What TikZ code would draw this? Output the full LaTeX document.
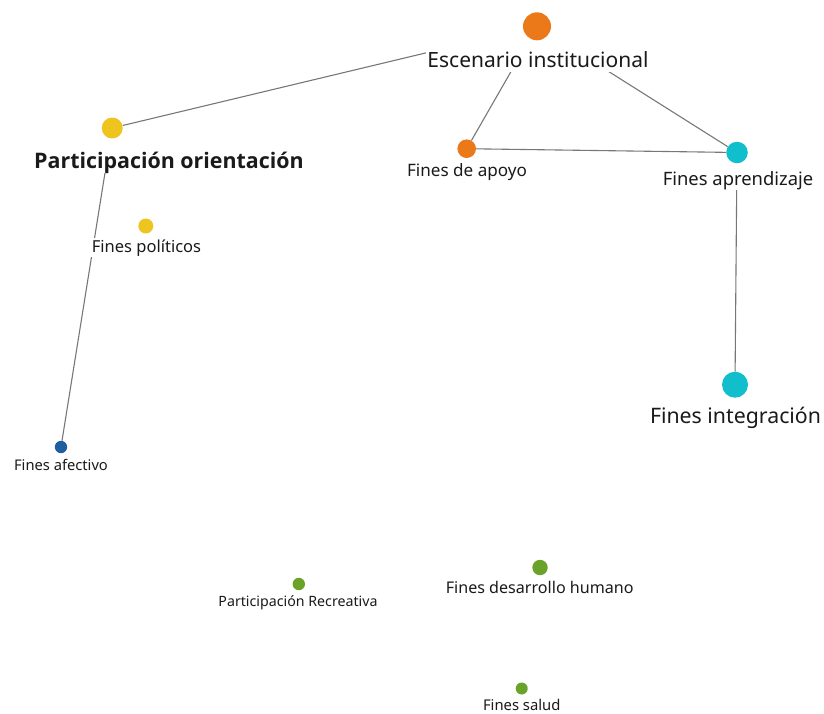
\documentclass[tikz,border=0pt]{standalone}
\usepackage{fontspec}
\setmainfont{Noto Sans}
\newfontfamily\boldfam{Open Sans}
\usetikzlibrary{backgrounds}
\definecolor{corange}{HTML}{EB7819}
\definecolor{cyellow}{HTML}{EEC41E}
\definecolor{ccyan}{HTML}{10BECC}
\definecolor{cblue}{HTML}{1F5FA0}
\definecolor{cgreen}{HTML}{6BA32A}
\definecolor{cedge}{HTML}{777777}
\definecolor{ctext}{HTML}{1A1A1A}
\tikzset{
  dot/.style={circle, inner sep=0pt, minimum size=#1},
  lbl/.style={anchor=base, fill=white, inner sep=1.5pt, text=ctext, text depth=0.3em, font=\fontsize{#1}{#1}\selectfont},
  edge/.style={draw=cedge, line width=1.1pt}
}
\begin{document}
\begin{tikzpicture}[x=1pt,y=-1pt]
\useasboundingbox (0,0) rectangle (824,713);
% circles
\node[dot=28pt, fill=corange] (esc) at (537,26.3) {};
\node[dot=21pt, fill=cyellow] (por) at (112.2,128) {};
\node[dot=15pt, fill=cyellow] (pol) at (145.8,226) {};
\node[dot=18.6pt, fill=corange] (apo) at (466.7,148.7) {};
\node[dot=21.5pt, fill=ccyan] (apr) at (737,152.5) {};
\node[dot=26pt, fill=ccyan] (int) at (735,384.7) {};
\node[dot=12.4pt, fill=cblue] (afe) at (61,447) {};
\node[dot=12.4pt, fill=cgreen] (rec) at (298.8,584) {};
\node[dot=15.4pt, fill=cgreen] (des) at (540,567.5) {};
\node[dot=12pt, fill=cgreen] (sal) at (521.7,688.5) {};
\begin{pgfonlayer}{background}
% connectors
\draw[edge] (esc) -- (por);
\draw[edge] (esc) -- (apo);
\draw[edge] (esc) -- (apr);
\draw[edge] (apo) -- (apr);
\draw[edge] (apr) -- (int);
\draw[edge] (por) -- (afe);
% labels
\node[lbl=21, text height=53pt] (escL) at (538,67) {Escenario institucional};
\node[lbl=21, text height=31pt, font=\boldfam\fontsize{21.4}{21.4}\selectfont\bfseries] (porL) at (169,168) {Participación orientación};
\node[lbl=16.5] (polL) at (146.5,252) {Fines políticos};
\node[lbl=17.1] (apoL) at (467,176) {Fines de apoyo};
\node[lbl=18.4, text height=22pt] (aprL) at (738,185) {Fines aprendizaje};
\node[lbl=21.3] (intL) at (735.5,423) {Fines integración};
\node[lbl=14.7] (afeL) at (61,470) {Fines afectivo};
\node[lbl=14.2] (recL) at (298,606) {Participación Recreativa};
\node[lbl=16.1] (desL) at (539.7,593) {Fines desarrollo humano};
\node[lbl=14.8] (salL) at (521.7,710) {Fines salud};
\end{pgfonlayer}
\end{tikzpicture}
\end{document}
